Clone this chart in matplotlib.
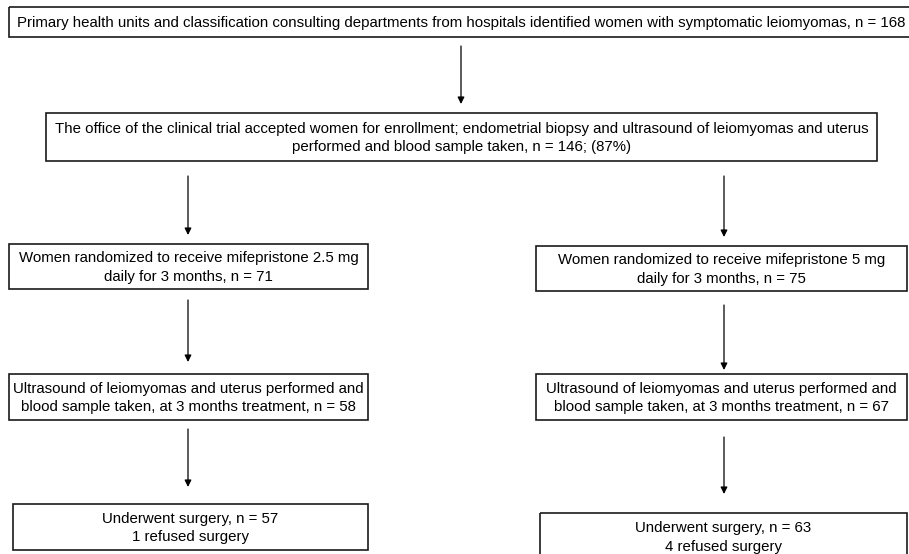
"""Flow chart of the mifepristone leiomyoma trial, drawn with matplotlib."""

import matplotlib

matplotlib.use("Agg")
import matplotlib.pyplot as plt
from matplotlib.patches import Rectangle

plt.rcParams["font.family"] = ["Liberation Sans", "DejaVu Sans"]

# counts per stage
n_identified = 168
n_enrolled = 146
pct_enrolled = 87
n_randomized = [71, 75]
dose_mg = ["2.5", "5"]
n_ultrasound = [58, 67]
n_surgery = [57, 63]
n_refused = [1, 4]

INK = "#1a1a1a"
FS = 10.8


def box(ax, x0, y0, x1, y1, text, ha="center", tx=None):
    ax.add_patch(Rectangle((x0, y0), x1 - x0, y1 - y0, fill=False,
                           edgecolor=INK, linewidth=1.2, zorder=2))
    if tx is None:
        tx = (x0 + x1) / 2
    ax.text(tx, (y0 + y1) / 2 + 1, text, ha=ha, va="center", fontsize=FS,
            color="black", linespacing=1.45, zorder=3)


def arrow(ax, x, y0, y1):
    ax.annotate("", xy=(x, y1), xytext=(x, y0),
                arrowprops=dict(arrowstyle="-|>", mutation_scale=10, lw=0.9,
                                color="black", shrinkA=0, shrinkB=0))


fig = plt.figure(figsize=(9.09, 5.54), dpi=100)
ax = fig.add_axes([0, 0, 1, 1])
ax.set_xlim(0, 909)
ax.set_ylim(554, 0)
ax.axis("off")

box(ax, 9, 7, 912, 37,
    "Primary health units and classification consulting departments from hospitals "
    f"identified women with symptomatic leiomyomas, n = {n_identified}",
    ha="left", tx=17)
arrow(ax, 461, 46, 104)

box(ax, 46, 113, 877, 161,
    "The office of the clinical trial accepted women for enrollment; endometrial biopsy "
    "and ultrasound of leiomyomas and uterus\nperformed and blood sample taken, "
    f"n = {n_enrolled}; ({pct_enrolled}%)")

cols = [(9, 368, 188), (536, 907, 724)]
rows3 = [(244, 289), (246, 291)]
rows4 = [(374, 420), (374, 420)]
rows5 = [(504, 550), (513, 560)]
arr2 = [(176, 235), (176, 237)]
arr3 = [(300, 362), (305, 370)]
arr4 = [(429, 487), (437, 494)]

for i, (x0, x1, xc) in enumerate(cols):
    arrow(ax, xc, *arr2[i])
    box(ax, x0, rows3[i][0], x1, rows3[i][1],
        f"Women randomized to receive mifepristone {dose_mg[i]} mg\n"
        f"daily for 3 months, n = {n_randomized[i]}")
    arrow(ax, xc, *arr3[i])
    box(ax, x0, rows4[i][0], x1, rows4[i][1],
        "Ultrasound of leiomyomas and uterus performed and\n"
        f"blood sample taken, at 3 months treatment, n = {n_ultrasound[i]}")
    arrow(ax, xc, *arr4[i])
    box(ax, x0 + 4, rows5[i][0], x1, rows5[i][1],
        f"Underwent surgery, n = {n_surgery[i]}\n{n_refused[i]} refused surgery")

fig.savefig("out.png", dpi=100, facecolor="white")
